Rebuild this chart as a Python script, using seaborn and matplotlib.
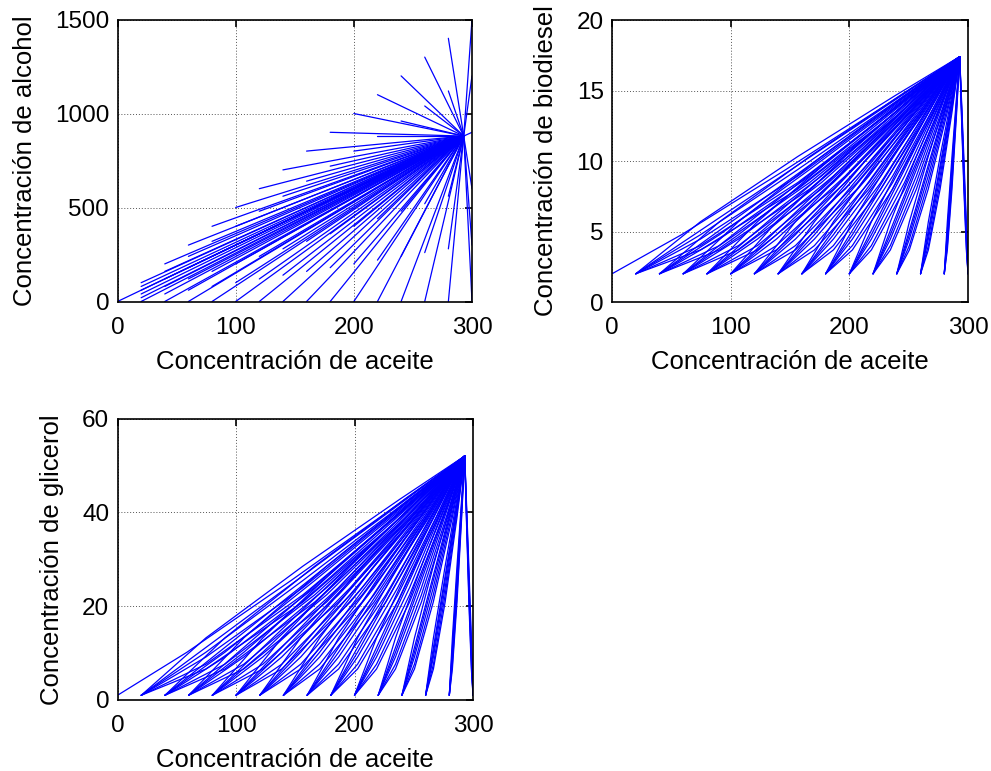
import matplotlib
matplotlib.use("Agg")
import matplotlib.pyplot as plt
import numpy as np
import pandas as pd
import seaborn as sns

# Initial conditions of the simulated trajectories
aceite_inicial = [0, 20, 40, 60, 80, 100, 120, 140, 160, 180, 200, 220, 240, 260, 280, 300]
relacion_alcohol = [0, 1, 2, 3, 4, 5]          # alcohol / aceite at t = 0
biodiesel_inicial = 2.0
glicerol_inicial = 1.0

# Steady state reached by every trajectory
aceite_eq = 293.0
alcohol_eq = 880.0
biodiesel_eq = 17.4
glicerol_eq = 52.0

# Intermediate states: fraction of the way to steady state for the oil,
# and the matching fraction for biodiesel / glycerol, one row per alcohol ratio
avance_aceite = [0.2, 0.5, 0.8]
avance_biodiesel = [
    [0.11, 0.39, 0.74],
    [0.13, 0.42, 0.76],
    [0.16, 0.45, 0.78],
    [0.18, 0.48, 0.79],
    [0.20, 0.50, 0.80],
    [0.24, 0.54, 0.82],
]
avance_glicerol = [
    [0.11, 0.39, 0.74],
    [0.13, 0.42, 0.76],
    [0.16, 0.45, 0.78],
    [0.18, 0.48, 0.79],
    [0.20, 0.50, 0.80],
    [0.24, 0.54, 0.82],
]

rows = []
traj = 0
for x0 in aceite_inicial:
    for k, r in enumerate(relacion_alcohol):
        # with no oil, every ratio gives the same starting point
        if x0 == 0 and k != 3:
            continue
        a0 = r * x0
        pts = [(x0, a0, biodiesel_inicial, glicerol_inicial)]
        for j, u in enumerate(avance_aceite):
            pts.append((x0 + u * (aceite_eq - x0),
                        a0 + u * (alcohol_eq - a0),
                        biodiesel_inicial + avance_biodiesel[k][j] * (biodiesel_eq - biodiesel_inicial),
                        glicerol_inicial + avance_glicerol[k][j] * (glicerol_eq - glicerol_inicial)))
        pts.append((aceite_eq, alcohol_eq, biodiesel_eq, glicerol_eq))
        for p in pts:
            rows.append({"traj": traj, "aceite": p[0], "alcohol": p[1],
                         "biodiesel": p[2], "glicerol": p[3]})
        traj += 1
df = pd.DataFrame(rows)

sns.set_style("white")
plt.rcParams["font.family"] = ["Liberation Sans", "DejaVu Sans"]
plt.rcParams["text.color"] = "black"
plt.rcParams["axes.labelcolor"] = "black"

fig = plt.figure(figsize=(9.91, 7.71), dpi=100)
W, H = 991.0, 771.0


def box(l, r, t, b):
    return [l / W, (H - b) / H, (r - l) / W, (b - t) / H]


panels = [
    (box(117.5, 472, 19.5, 301.5), "alcohol", "Concentración de alcohol", (0, 1500), [0, 500, 1000, 1500]),
    (box(612, 968, 20, 302), "biodiesel", "Concentración de biodiesel", (0, 20), [0, 5, 10, 15, 20]),
    (box(117.5, 473, 418.5, 700), "glicerol", "Concentración de glicerol", (0, 60), [0, 20, 40, 60]),
]

for rect, col, ylab, ylim, yt in panels:
    ax = fig.add_axes(rect)
    sns.lineplot(data=df, x="aceite", y=col, units="traj", estimator=None, sort=False,
                 color="#0000ff", lw=0.9, ax=ax, legend=False)
    ax.set_xlim(0, 300)
    ax.set_ylim(*ylim)
    ax.set_xticks([0, 100, 200, 300])
    ax.set_yticks(yt)
    ax.grid(True, color="#555555", linestyle=(0, (1, 2)), linewidth=0.7)
    ax.tick_params(direction="in", length=5, width=1.2, top=True, right=True,
                   labelsize=17.5, colors="black")
    ax.tick_params(axis="x", pad=11)
    ax.tick_params(axis="y", pad=6)
    for s in ax.spines.values():
        s.set_color("black")
        s.set_linewidth(1.2)
    ax.set_xlabel("Concentración de aceite", fontsize=18.5, labelpad=8, color="black")
    ax.set_ylabel(ylab, fontsize=18.5, labelpad=13, color="black")

fig.savefig("out.png", dpi=100)
